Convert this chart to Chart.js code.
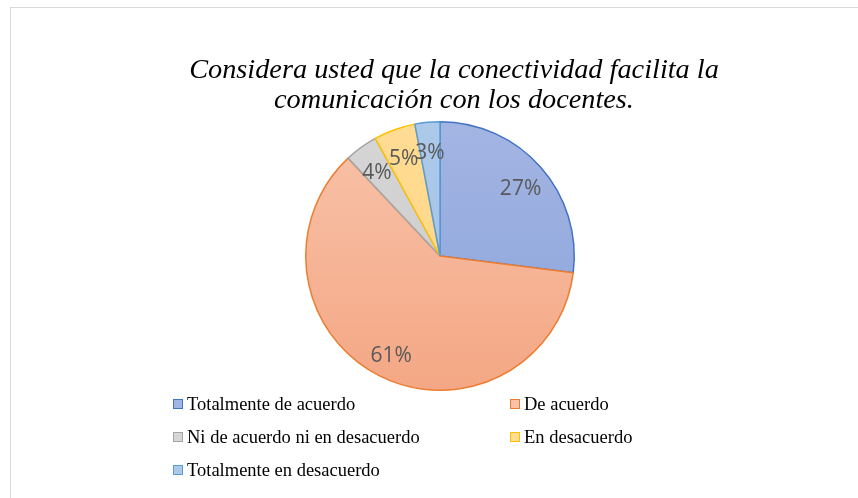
<!DOCTYPE html>
<html lang="es">
<head>
<meta charset="UTF-8">
<title>Conectividad</title>
<script src="https://cdn.jsdelivr.net/npm/chart.js"></script>
<style>
  html, body { margin: 0; padding: 0; background: #fff; overflow: hidden; }
  body { width: 858px; height: 498px; position: relative; }
  #marco { position: absolute; left: 10px; top: 7px; width: 900px; height: 560px; border: 1px solid #d9d9d9; box-sizing: border-box; }
  #lienzo { position: absolute; left: 10px; top: 7px; width: 860px; height: 491px; }
  #titulo { position: absolute; left: 0; top: 54px; width: 908px; text-align: center; font-family: "Liberation Serif", serif; font-style: italic; font-size: 28.3px; line-height: 30px; color: #000; white-space: nowrap; }
  #leyenda { position: absolute; left: 0; top: 0; font-family: "Liberation Serif", serif; font-size: 18.5px; color: #000; }
  .item { position: absolute; white-space: nowrap; line-height: 20px; }
  .caja { display: inline-block; width: 8px; height: 8px; border: 1.5px solid; margin-right: 4px; vertical-align: 1px; }
</style>
</head>
<body>
<div id="marco"></div>
<div id="lienzo"><canvas id="grafico" width="860" height="491"></canvas></div>
<div id="titulo"></div>
<div id="leyenda"></div>
<script>
  // datos
  const titulo = ['Considera usted que la conectividad facilita la', 'comunicación con los docentes.'];
  const categorias = ['Totalmente de acuerdo', 'De acuerdo', 'Ni de acuerdo ni en desacuerdo', 'En desacuerdo', 'Totalmente en desacuerdo'];
  const porcentajes = [27, 61, 4, 5, 3];

  const bordes = ['#4472C4', '#ED7D31', '#A5A5A5', '#FFC000', '#5B9BD5'];
  const rellenoArriba = ['#a3b5e3', '#f8c3aa', '#d6d6d6', '#ffdc94', '#adc9ea'];
  const rellenoAbajo = ['#8aa2da', '#f4a784', '#c9c9c9', '#ffd480', '#a2c0e6'];

  // posiciones de la leyenda (columna, fila)
  const posLeyenda = [[173, 394], [510, 394], [173, 427], [510, 427], [173, 460]];

  document.getElementById('titulo').innerHTML = titulo.join('<br>');

  const leyenda = document.getElementById('leyenda');
  categorias.forEach(function (c, i) {
    const d = document.createElement('div');
    d.className = 'item';
    d.style.left = posLeyenda[i][0] + 'px';
    d.style.top = posLeyenda[i][1] + 'px';
    d.innerHTML = '<span class="caja" style="background:' + rellenoArriba[i] + ';border-color:' + bordes[i] + '"></span>' + c;
    leyenda.appendChild(d);
  });

  function degradado(context) {
    const chart = context.chart;
    const area = chart.chartArea;
    if (!area) return rellenoArriba[context.dataIndex];
    const g = chart.ctx.createLinearGradient(0, area.top, 0, area.bottom);
    g.addColorStop(0, rellenoArriba[context.dataIndex]);
    g.addColorStop(1, rellenoAbajo[context.dataIndex]);
    return g;
  }

  // etiquetas de porcentaje dentro de cada porcion
  const etiquetas = {
    id: 'etiquetas',
    afterDatasetsDraw(chart) {
      const ctx = chart.ctx;
      const meta = chart.getDatasetMeta(0);
      ctx.save();
      ctx.font = '21px "Open Sans", "Noto Sans", sans-serif';
      ctx.fillStyle = '#595959';
      ctx.textAlign = 'center';
      ctx.textBaseline = 'middle';
      meta.data.forEach(function (arc, i) {
        const p = arc.getProps(['x', 'y', 'startAngle', 'endAngle', 'outerRadius'], true);
        const a = (p.startAngle + p.endAngle) / 2;
        const r = p.outerRadius * 0.8;
        ctx.fillText(porcentajes[i] + '%', p.x + Math.cos(a) * r, p.y + Math.sin(a) * r + 4);
      });
      ctx.restore();
    }
  };

  const ctx = document.getElementById('grafico').getContext('2d');
  const grafico = new Chart(ctx, {
    type: 'pie',
    data: {
      labels: categorias,
      datasets: [{
        data: porcentajes,
        backgroundColor: degradado,
        borderColor: bordes,
        borderWidth: 1.5
      }]
    },
    options: {
      responsive: false,
      animation: false,
      layout: { padding: { top: 114, bottom: 107, left: 0, right: 0 } },
      plugins: {
        legend: { display: false },
        tooltip: { enabled: false },
        title: { display: false }
      }
    },
    plugins: [etiquetas]
  });
</script>
</body>
</html>
